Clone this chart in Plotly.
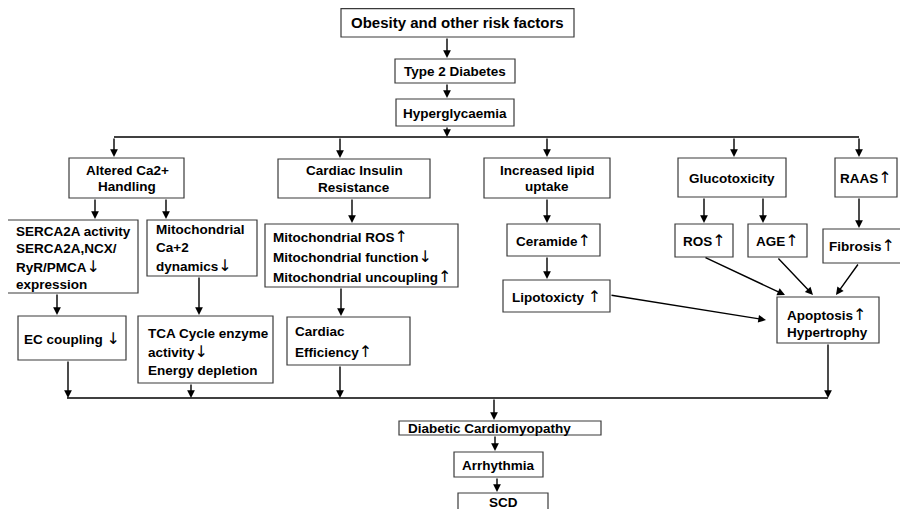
import plotly.graph_objects as go

# ---------------- data: node labels (one entry per line of text) ----------------
TOP_LABELS = ["Obesity and other risk factors", "Type 2 Diabetes", "Hyperglycaemia"]
BRANCH_LABELS = [
    ["Altered Ca2+", "Handling"],
    ["Cardiac Insulin", "Resistance"],
    ["Increased lipid", "uptake"],
    ["Glucotoxicity"],
    ["RAAS↑"],
]
MID_LABELS = [
    ["SERCA2A activity", "SERCA2A,NCX/", "RyR/PMCA↓", "expression"],
    ["Mitochondrial", "Ca+2", "dynamics↓"],
    ["Mitochondrial ROS↑", "Mitochondrial function↓", "Mitochondrial uncoupling↑"],
    ["Ceramide↑"],
    ["ROS↑"],
    ["AGE↑"],
    ["Fibrosis↑"],
]
LOW_LABELS = [
    ["EC coupling ↓"],
    ["TCA Cycle enzyme", "activity↓", "Energy depletion"],
    ["Cardiac", "Efficiency↑"],
    ["Lipotoxicty ↑"],
    ["Apoptosis↑", "Hypertrophy"],
]
OUTCOME_LABELS = ["Diabetic Cardiomyopathy", "Arrhythmia", "SCD"]

# ---------------- layout (pixel geometry) ----------------
# box: (x0, y0, x1, y1), text anchor x, align, first line y, line spacing, font size
FS = 13.5
TOP_GEOM = [
    ((341, 8.7, 574, 37), 457, "center", 22, 0, 15),
    ((395, 59, 515, 83), 455, "center", 71, 0, FS),
    ((396, 99, 514, 126), 455, "center", 113, 0, FS),
]
BRANCH_GEOM = [
    ((69, 158, 184, 198), 127, "center", 170, 16.5, FS),
    ((278, 159, 430, 198), 354, "center", 170, 17, FS),
    ((484, 158, 610, 198), 547, "center", 170, 16.5, FS),
    ((678, 158, 786, 197), 732, "center", 178, 0, FS),
    ((835, 158, 897, 197), 866, "center", 177, 0, FS),
]
MID_GEOM = [
    ((7, 220, 138, 293), 14, "left", 231, 17.7, FS),
    ((147, 220, 257, 276), 154, "left", 229, 18, FS),
    ((265, 224, 458, 287), 271, "left", 236, 20, FS),
    ((507, 224, 600, 256), 553, "center", 240, 0, FS),
    ((675, 224, 733, 257), 704, "center", 240, 0, FS),
    ((748, 224, 807, 257), 777, "center", 240, 0, FS),
    ((823, 229, 901, 263), 862, "center", 245, 0, FS),
]
LOW_GEOM = [
    ((18, 316, 126, 360), 72, "center", 338, 0, FS),
    ((138, 316, 273, 383), 146, "left", 333, 18.6, FS),
    ((287, 317, 410, 365), 293, "left", 331, 20, FS),
    ((503, 280, 610, 312), 556, "center", 296, 0, FS),
    ((777, 297, 879, 343), 785, "left", 314, 18, FS),
]
OUTCOME_GEOM = [
    ((399, 421, 601, 435), 406, "left", 428, 0, FS),
    ((454, 452, 543, 477), 498, "center", 465, 0, FS),
    ((458, 493, 548, 520), 503, "center", 502, 0, FS),
]

# plain connector lines (no heads)
LINES = [
    ((114, 137), (859, 137)),
    ((67, 398), (828, 398)),
]
# arrows: (tail, head)
ARROWS = [
    ((447, 37), (447, 58)),
    ((447, 83), (447, 98)),
    ((447, 126), (447, 137)),
    ((114, 137), (114, 157)),
    ((340, 137), (340, 158)),
    ((547, 137), (547, 157)),
    ((734, 137), (734, 157)),
    ((859, 137), (859, 157)),
    ((95, 198), (95, 219)),
    ((166, 198), (166, 219)),
    ((57, 293), (57, 315)),
    ((199, 276), (199, 315)),
    ((352, 198), (352, 223)),
    ((341, 287), (341, 316)),
    ((547, 198), (547, 223)),
    ((547, 256), (547, 279)),
    ((610, 295), (766, 320)),
    ((704, 197), (704, 223)),
    ((763, 197), (763, 223)),
    ((859, 197), (859, 228)),
    ((704, 257), (785, 295)),
    ((777, 257), (813, 295)),
    ((859, 263), (836, 295)),
    ((68, 360), (68, 398)),
    ((191, 383), (191, 398)),
    ((340, 365), (340, 398)),
    ((828, 343), (828, 398)),
    ((494, 398), (494, 420)),
    ((495, 435), (495, 451)),
    ((497, 477), (497, 492)),
]

FONT = "Liberation Sans, Arial, sans-serif"
PAGE_OFFSET = 8  # default body margin of the html page

fig = go.Figure()
fig.add_trace(go.Scatter(x=[PAGE_OFFSET, 908], y=[PAGE_OFFSET, 509], mode="markers",
                         marker=dict(opacity=0), hoverinfo="skip", showlegend=False))

shapes = []
annotations = []


def style_line(line):
    out = "<b>" + line + "</b>"
    for g in ("↑", "↓"):
        out = out.replace(g, "</b><span style='font-size:16px;font-family:DejaVu Sans;"
                          "color:black'>" + g + "</span><b>")
    return out.replace("<b></b>", "")


def add_nodes(labels, geoms):
    for lab, g in zip(labels, geoms):
        if isinstance(lab, str):
            lab = [lab]
        (x0, y0, x1, y1), tx, align, ty, dy, fs = g
        shapes.append(dict(type="rect", x0=x0, y0=y0, x1=x1, y1=y1, xref="x", yref="y",
                           line=dict(color="#3a3a3a", width=1.2), fillcolor="white", layer="below"))
        for i, line in enumerate(lab):
            annotations.append(dict(
                x=tx, y=ty + i * dy, xref="x", yref="y", text=style_line(line),
                showarrow=False, xanchor="left" if align == "left" else "center",
                yanchor="middle", font=dict(family=FONT, size=fs, color="black")))


add_nodes(TOP_LABELS, TOP_GEOM)
add_nodes(BRANCH_LABELS, BRANCH_GEOM)
add_nodes(MID_LABELS, MID_GEOM)
add_nodes(LOW_LABELS, LOW_GEOM)
add_nodes(OUTCOME_LABELS, OUTCOME_GEOM)

for (a, b) in LINES:
    shapes.append(dict(type="line", x0=a[0], y0=a[1], x1=b[0], y1=b[1], xref="x", yref="y",
                       line=dict(color="black", width=1.6)))

for (tail, head) in ARROWS:
    annotations.append(dict(x=head[0], y=head[1], ax=tail[0], ay=tail[1],
                            xref="x", yref="y", axref="x", ayref="y", text="",
                            showarrow=True, arrowhead=2, arrowsize=1.1, arrowwidth=1.4,
                            arrowcolor="black", standoff=0, startstandoff=0))

fig.update_layout(
    width=908 - PAGE_OFFSET, height=509 - PAGE_OFFSET,
    margin=dict(l=0, r=0, t=0, b=0),
    paper_bgcolor="white", plot_bgcolor="white",
    xaxis=dict(range=[PAGE_OFFSET, 908], visible=False, fixedrange=True),
    yaxis=dict(range=[509, PAGE_OFFSET], visible=False, fixedrange=True),
    shapes=shapes, annotations=annotations, showlegend=False,
)

fig.write_html("out.html")
